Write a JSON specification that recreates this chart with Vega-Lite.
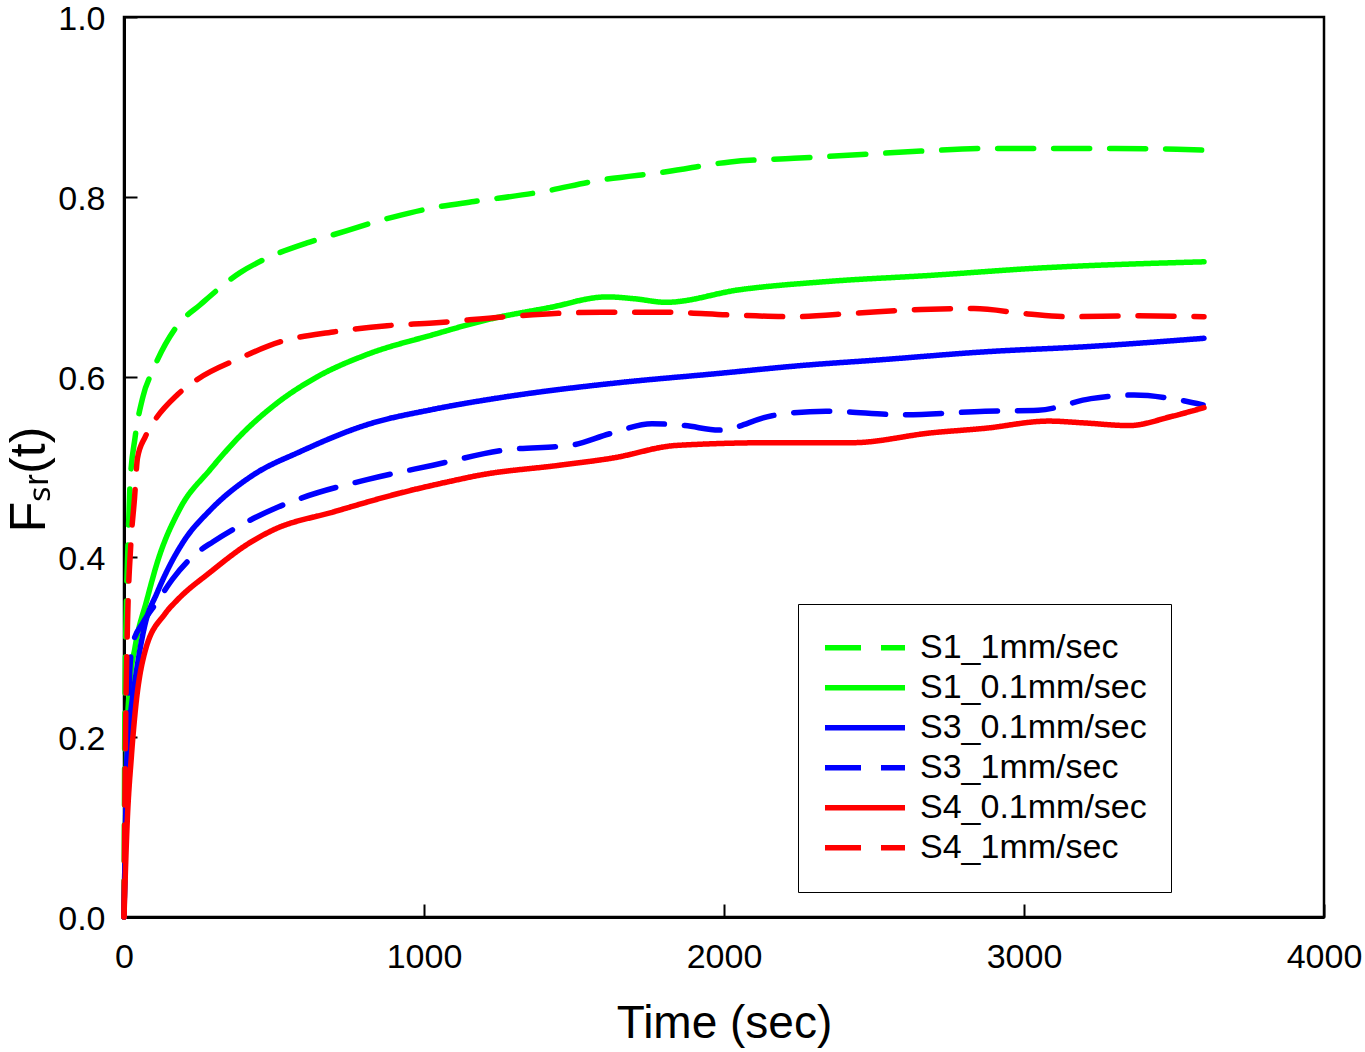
{
  "$schema": "https://vega.github.io/schema/vega-lite/v6.json",
  "width": 1200,
  "height": 900,
  "autosize": {"type": "none"},
  "padding": {"left": 124, "top": 17, "right": 41, "bottom": 135},
  "background": "white",
  "config": {
    "view": {"stroke": "black", "strokeWidth": 2.5},
    "font": "Liberation Sans",
    "axis": {
      "grid": false,
      "domainColor": "black",
      "domainWidth": 3,
      "tickColor": "black",
      "tickWidth": 2,
      "tickSize": -13,
      "labelFont": "Liberation Sans",
      "labelFontSize": 34,
      "labelColor": "black",
      "labelFlush": false,
      "labelOverlap": false,
      "titleFont": "Liberation Sans",
      "titleFontWeight": "normal",
      "titleColor": "black"
    }
  },
  "data": {
    "values": [
      {"series": "S1_1mm/sec", "t": 0, "f": 0},
      {"series": "S1_1mm/sec", "t": 3, "f": 0.23},
      {"series": "S1_1mm/sec", "t": 8, "f": 0.35},
      {"series": "S1_1mm/sec", "t": 13, "f": 0.41},
      {"series": "S1_1mm/sec", "t": 20, "f": 0.48},
      {"series": "S1_1mm/sec", "t": 37, "f": 0.533},
      {"series": "S1_1mm/sec", "t": 63, "f": 0.578},
      {"series": "S1_1mm/sec", "t": 97, "f": 0.608},
      {"series": "S1_1mm/sec", "t": 180, "f": 0.658},
      {"series": "S1_1mm/sec", "t": 253, "f": 0.68},
      {"series": "S1_1mm/sec", "t": 387, "f": 0.716},
      {"series": "S1_1mm/sec", "t": 463, "f": 0.73},
      {"series": "S1_1mm/sec", "t": 610, "f": 0.749},
      {"series": "S1_1mm/sec", "t": 697, "f": 0.758},
      {"series": "S1_1mm/sec", "t": 900, "f": 0.778},
      {"series": "S1_1mm/sec", "t": 1030, "f": 0.788},
      {"series": "S1_1mm/sec", "t": 1167, "f": 0.795},
      {"series": "S1_1mm/sec", "t": 1380, "f": 0.805},
      {"series": "S1_1mm/sec", "t": 1593, "f": 0.819},
      {"series": "S1_1mm/sec", "t": 1807, "f": 0.828},
      {"series": "S1_1mm/sec", "t": 2020, "f": 0.839},
      {"series": "S1_1mm/sec", "t": 2233, "f": 0.843},
      {"series": "S1_1mm/sec", "t": 2443, "f": 0.847},
      {"series": "S1_1mm/sec", "t": 2657, "f": 0.851},
      {"series": "S1_1mm/sec", "t": 2870, "f": 0.854},
      {"series": "S1_1mm/sec", "t": 3083, "f": 0.854},
      {"series": "S1_1mm/sec", "t": 3297, "f": 0.854},
      {"series": "S1_1mm/sec", "t": 3510, "f": 0.853},
      {"series": "S1_1mm/sec", "t": 3600, "f": 0.852},

      {"series": "S1_0.1mm/sec", "t": 0, "f": 0},
      {"series": "S1_0.1mm/sec", "t": 5, "f": 0.1},
      {"series": "S1_0.1mm/sec", "t": 10, "f": 0.2},
      {"series": "S1_0.1mm/sec", "t": 20, "f": 0.26},
      {"series": "S1_0.1mm/sec", "t": 37, "f": 0.3},
      {"series": "S1_0.1mm/sec", "t": 76, "f": 0.352},
      {"series": "S1_0.1mm/sec", "t": 110, "f": 0.393},
      {"series": "S1_0.1mm/sec", "t": 187, "f": 0.454},
      {"series": "S1_0.1mm/sec", "t": 287, "f": 0.497},
      {"series": "S1_0.1mm/sec", "t": 397, "f": 0.538},
      {"series": "S1_0.1mm/sec", "t": 510, "f": 0.571},
      {"series": "S1_0.1mm/sec", "t": 643, "f": 0.6},
      {"series": "S1_0.1mm/sec", "t": 810, "f": 0.625},
      {"series": "S1_0.1mm/sec", "t": 1030, "f": 0.647},
      {"series": "S1_0.1mm/sec", "t": 1203, "f": 0.663},
      {"series": "S1_0.1mm/sec", "t": 1417, "f": 0.677},
      {"series": "S1_0.1mm/sec", "t": 1610, "f": 0.689},
      {"series": "S1_0.1mm/sec", "t": 1700, "f": 0.687},
      {"series": "S1_0.1mm/sec", "t": 1807, "f": 0.683},
      {"series": "S1_0.1mm/sec", "t": 2053, "f": 0.697},
      {"series": "S1_0.1mm/sec", "t": 2340, "f": 0.706},
      {"series": "S1_0.1mm/sec", "t": 2693, "f": 0.713},
      {"series": "S1_0.1mm/sec", "t": 3047, "f": 0.721},
      {"series": "S1_0.1mm/sec", "t": 3600, "f": 0.728},

      {"series": "S3_0.1mm/sec", "t": 0, "f": 0},
      {"series": "S3_0.1mm/sec", "t": 5, "f": 0.1},
      {"series": "S3_0.1mm/sec", "t": 10, "f": 0.18},
      {"series": "S3_0.1mm/sec", "t": 20, "f": 0.22},
      {"series": "S3_0.1mm/sec", "t": 37, "f": 0.263},
      {"series": "S3_0.1mm/sec", "t": 70, "f": 0.325},
      {"series": "S3_0.1mm/sec", "t": 110, "f": 0.36},
      {"series": "S3_0.1mm/sec", "t": 150, "f": 0.389},
      {"series": "S3_0.1mm/sec", "t": 200, "f": 0.418},
      {"series": "S3_0.1mm/sec", "t": 287, "f": 0.452},
      {"series": "S3_0.1mm/sec", "t": 430, "f": 0.491},
      {"series": "S3_0.1mm/sec", "t": 587, "f": 0.517},
      {"series": "S3_0.1mm/sec", "t": 810, "f": 0.547},
      {"series": "S3_0.1mm/sec", "t": 1030, "f": 0.564},
      {"series": "S3_0.1mm/sec", "t": 1273, "f": 0.578},
      {"series": "S3_0.1mm/sec", "t": 1630, "f": 0.593},
      {"series": "S3_0.1mm/sec", "t": 1983, "f": 0.604},
      {"series": "S3_0.1mm/sec", "t": 2267, "f": 0.613},
      {"series": "S3_0.1mm/sec", "t": 2517, "f": 0.619},
      {"series": "S3_0.1mm/sec", "t": 2870, "f": 0.628},
      {"series": "S3_0.1mm/sec", "t": 3223, "f": 0.634},
      {"series": "S3_0.1mm/sec", "t": 3600, "f": 0.643},

      {"series": "S3_1mm/sec", "t": 0, "f": 0},
      {"series": "S3_1mm/sec", "t": 3, "f": 0.05},
      {"series": "S3_1mm/sec", "t": 7, "f": 0.13},
      {"series": "S3_1mm/sec", "t": 12, "f": 0.2},
      {"series": "S3_1mm/sec", "t": 20, "f": 0.278},
      {"series": "S3_1mm/sec", "t": 30, "f": 0.304},
      {"series": "S3_1mm/sec", "t": 63, "f": 0.327},
      {"series": "S3_1mm/sec", "t": 110, "f": 0.35},
      {"series": "S3_1mm/sec", "t": 163, "f": 0.376},
      {"series": "S3_1mm/sec", "t": 237, "f": 0.403},
      {"series": "S3_1mm/sec", "t": 297, "f": 0.417},
      {"series": "S3_1mm/sec", "t": 387, "f": 0.435},
      {"series": "S3_1mm/sec", "t": 510, "f": 0.455},
      {"series": "S3_1mm/sec", "t": 587, "f": 0.465},
      {"series": "S3_1mm/sec", "t": 810, "f": 0.486},
      {"series": "S3_1mm/sec", "t": 1030, "f": 0.502},
      {"series": "S3_1mm/sec", "t": 1273, "f": 0.519},
      {"series": "S3_1mm/sec", "t": 1487, "f": 0.524},
      {"series": "S3_1mm/sec", "t": 1620, "f": 0.537},
      {"series": "S3_1mm/sec", "t": 1760, "f": 0.548},
      {"series": "S3_1mm/sec", "t": 1870, "f": 0.546},
      {"series": "S3_1mm/sec", "t": 1983, "f": 0.541},
      {"series": "S3_1mm/sec", "t": 2160, "f": 0.557},
      {"series": "S3_1mm/sec", "t": 2340, "f": 0.562},
      {"series": "S3_1mm/sec", "t": 2603, "f": 0.558},
      {"series": "S3_1mm/sec", "t": 2870, "f": 0.562},
      {"series": "S3_1mm/sec", "t": 3047, "f": 0.563},
      {"series": "S3_1mm/sec", "t": 3223, "f": 0.576},
      {"series": "S3_1mm/sec", "t": 3367, "f": 0.58},
      {"series": "S3_1mm/sec", "t": 3510, "f": 0.575},
      {"series": "S3_1mm/sec", "t": 3597, "f": 0.569},

      {"series": "S4_0.1mm/sec", "t": 0, "f": 0},
      {"series": "S4_0.1mm/sec", "t": 10, "f": 0.1},
      {"series": "S4_0.1mm/sec", "t": 25, "f": 0.18},
      {"series": "S4_0.1mm/sec", "t": 37, "f": 0.227},
      {"series": "S4_0.1mm/sec", "t": 70, "f": 0.295},
      {"series": "S4_0.1mm/sec", "t": 137, "f": 0.337},
      {"series": "S4_0.1mm/sec", "t": 177, "f": 0.352},
      {"series": "S4_0.1mm/sec", "t": 287, "f": 0.383},
      {"series": "S4_0.1mm/sec", "t": 420, "f": 0.416},
      {"series": "S4_0.1mm/sec", "t": 497, "f": 0.43},
      {"series": "S4_0.1mm/sec", "t": 697, "f": 0.45},
      {"series": "S4_0.1mm/sec", "t": 920, "f": 0.471},
      {"series": "S4_0.1mm/sec", "t": 1087, "f": 0.484},
      {"series": "S4_0.1mm/sec", "t": 1187, "f": 0.491},
      {"series": "S4_0.1mm/sec", "t": 1453, "f": 0.502},
      {"series": "S4_0.1mm/sec", "t": 1630, "f": 0.51},
      {"series": "S4_0.1mm/sec", "t": 1843, "f": 0.524},
      {"series": "S4_0.1mm/sec", "t": 2160, "f": 0.527},
      {"series": "S4_0.1mm/sec", "t": 2427, "f": 0.527},
      {"series": "S4_0.1mm/sec", "t": 2693, "f": 0.538},
      {"series": "S4_0.1mm/sec", "t": 2870, "f": 0.543},
      {"series": "S4_0.1mm/sec", "t": 3083, "f": 0.551},
      {"series": "S4_0.1mm/sec", "t": 3200, "f": 0.549},
      {"series": "S4_0.1mm/sec", "t": 3350, "f": 0.546},
      {"series": "S4_0.1mm/sec", "t": 3490, "f": 0.556},
      {"series": "S4_0.1mm/sec", "t": 3600, "f": 0.566},

      {"series": "S4_1mm/sec", "t": 0, "f": 0},
      {"series": "S4_1mm/sec", "t": 5, "f": 0.2},
      {"series": "S4_1mm/sec", "t": 12, "f": 0.33},
      {"series": "S4_1mm/sec", "t": 22, "f": 0.41},
      {"series": "S4_1mm/sec", "t": 35, "f": 0.465},
      {"series": "S4_1mm/sec", "t": 45, "f": 0.51},
      {"series": "S4_1mm/sec", "t": 70, "f": 0.533},
      {"series": "S4_1mm/sec", "t": 97, "f": 0.549},
      {"series": "S4_1mm/sec", "t": 177, "f": 0.58},
      {"series": "S4_1mm/sec", "t": 243, "f": 0.597},
      {"series": "S4_1mm/sec", "t": 387, "f": 0.621},
      {"series": "S4_1mm/sec", "t": 520, "f": 0.639},
      {"series": "S4_1mm/sec", "t": 697, "f": 0.65},
      {"series": "S4_1mm/sec", "t": 877, "f": 0.657},
      {"series": "S4_1mm/sec", "t": 1030, "f": 0.66},
      {"series": "S4_1mm/sec", "t": 1273, "f": 0.667},
      {"series": "S4_1mm/sec", "t": 1593, "f": 0.672},
      {"series": "S4_1mm/sec", "t": 1807, "f": 0.672},
      {"series": "S4_1mm/sec", "t": 2020, "f": 0.669},
      {"series": "S4_1mm/sec", "t": 2233, "f": 0.667},
      {"series": "S4_1mm/sec", "t": 2443, "f": 0.671},
      {"series": "S4_1mm/sec", "t": 2657, "f": 0.675},
      {"series": "S4_1mm/sec", "t": 2833, "f": 0.676},
      {"series": "S4_1mm/sec", "t": 3013, "f": 0.67},
      {"series": "S4_1mm/sec", "t": 3153, "f": 0.667},
      {"series": "S4_1mm/sec", "t": 3367, "f": 0.668},
      {"series": "S4_1mm/sec", "t": 3600, "f": 0.667}
    ]
  },
  "mark": {"type": "line", "strokeWidth": 5.5, "strokeCap": "round", "interpolate": "monotone"},
  "encoding": {
    "x": {
      "field": "t",
      "type": "quantitative",
      "scale": {"domain": [0, 4000], "nice": false, "zero": false},
      "axis": {
        "values": [0, 1000, 2000, 3000, 4000],
        "format": "d",
        "labelPadding": 36,
        "title": "Time (sec)",
        "titleFontSize": 46,
        "titlePadding": 27
      }
    },
    "y": {
      "field": "f",
      "type": "quantitative",
      "scale": {"domain": [0, 1], "nice": false},
      "axis": {
        "values": [0, 0.2, 0.4, 0.6, 0.8, 1.0],
        "format": ".1f",
        "labelPadding": 32,
        "labelOffset": 2,
        "title": "Fₛᵣ(t)",
        "titleFontSize": 50,
        "titlePadding": 3,
        "titleY": 462
      }
    },
    "color": {
      "field": "series",
      "type": "nominal",
      "scale": {
        "domain": ["S1_1mm/sec", "S1_0.1mm/sec", "S3_0.1mm/sec", "S3_1mm/sec", "S4_0.1mm/sec", "S4_1mm/sec"],
        "range": ["#00ff00", "#00ff00", "#0000ff", "#0000ff", "#ff0000", "#ff0000"]
      },
      "legend": {
        "orient": "none",
        "legendX": 674,
        "legendY": 587,
        "title": null,
        "strokeColor": "black",
        "fillColor": "white",
        "padding": 24,
        "symbolType": "stroke",
        "symbolSize": 6400,
        "symbolStrokeWidth": 5.5,
        "clipHeight": 39.4,
        "labelFont": "Liberation Sans",
        "labelFontSize": 34,
        "labelColor": "black",
        "labelOffset": 12,
        "labelLimit": 400,
        "rowPadding": 0
      }
    },
    "strokeDash": {
      "field": "series",
      "type": "nominal",
      "scale": {
        "domain": ["S1_1mm/sec", "S1_0.1mm/sec", "S3_0.1mm/sec", "S3_1mm/sec", "S4_0.1mm/sec", "S4_1mm/sec"],
        "range": [[36, 20], [1, 0], [1, 0], [36, 20], [1, 0], [36, 20]]
      }
    }
  }
}
